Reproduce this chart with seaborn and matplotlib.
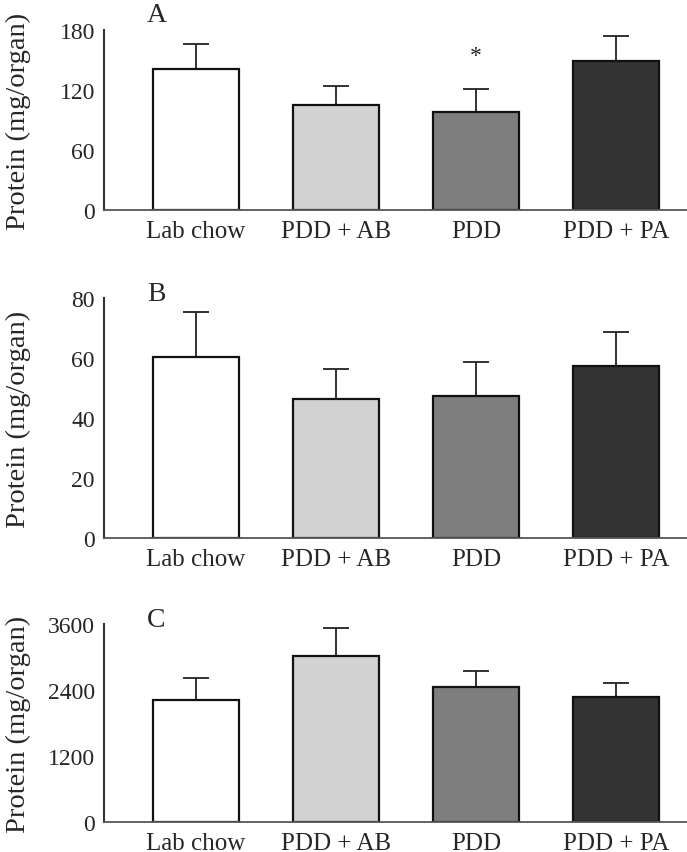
import matplotlib
matplotlib.use("Agg")
import matplotlib.pyplot as plt
import numpy as np
import pandas as pd
import seaborn as sns

# Data
groups = ["Lab chow", "PDD + AB", "PDD", "PDD + PA"]
colors = ["#ffffff", "#d2d2d2", "#7e7e7e", "#333333"]

protein_a = [141, 105, 98, 149]
sem_a = [25, 19, 23, 25]

protein_b = [60.5, 46.5, 47.4, 57.3]
sem_b = [14.9, 9.7, 11.4, 11.3]

protein_c = [2216, 3017, 2459, 2265]
sem_c = [395, 510, 291, 261]

panels = [
    ("A", protein_a, sem_a, 180, [0, 60, 120, 180], 20),
    ("B", protein_b, sem_b, 80, [0, 20, 40, 60, 80], 10),
    ("C", protein_c, sem_c, 3600, [0, 1200, 2400, 3600], 600),
]
star_group = "PDD"  # significant in panel A

sns.set_style("white")
plt.rcParams["font.family"] = ["Liberation Serif", "DejaVu Serif"]

W, H = 687, 853
fig = plt.figure(figsize=(W / 100, H / 100), dpi=100)

# axes boxes in pixels: (top, bottom)
boxes = [(31, 211), (299, 539), (625, 823)]
left_px = 104

for (label, vals, errs, ymax, yticks, minor), (top, bot) in zip(panels, boxes):
    ax = fig.add_axes([left_px / W, 1 - bot / H, (W - left_px) / W, (bot - top) / H])
    df = pd.DataFrame({"group": groups, "protein": vals, "sem": errs})
    sns.barplot(
        data=df, x="group", y="protein", hue="group", palette=colors,
        order=groups, hue_order=groups, errorbar=None, legend=False,
        width=0.62, edgecolor="#111111", linewidth=1.6, ax=ax, zorder=2,
    )
    ax.errorbar(
        np.arange(len(groups)), df["protein"],
        yerr=[np.zeros(len(groups)), df["sem"]],
        fmt="none", ecolor="#222222", elinewidth=1.3, capsize=9.5,
        capthick=1.3, zorder=1,
    )
    if label == "A":
        i = groups.index(star_group)
        ax.text(i, vals[i] + errs[i] + 33, "*", ha="center", va="center",
                fontsize=17)

    ax.set_xlim(-0.657, 3.507)
    ax.set_ylim(0, ymax)
    ax.set_yticks(yticks)
    ax.set_yticks(np.arange(0, ymax + 1, minor), minor=True)
    ax.tick_params(axis="y", which="major", direction="in", length=15,
                   width=1.3, color="#333333", labelsize=17, pad=6.5)
    ax.tick_params(axis="y", which="minor", direction="in", length=8,
                   width=1.3, color="#333333")
    ax.tick_params(axis="x", length=0, labelsize=18, pad=7)
    ax.set_xlabel("")
    ax.set_ylabel("Protein (mg/organ)", fontsize=20.5)
    ax.yaxis.set_label_coords(-0.125, 0.5)
    for s in ["top", "right"]:
        ax.spines[s].set_visible(False)
    ax.spines["left"].set_linewidth(1.5)
    ax.spines["left"].set_color("#333333")
    ax.spines["bottom"].set_linewidth(1.3)
    ax.spines["bottom"].set_color("#555555")
    ax.text(0.09, 1.0 + (16 if label == "A" else 4) / (bot - top), label,
            transform=ax.transAxes, ha="center", va="center", fontsize=20)

fig.savefig("out.png", dpi=100)
